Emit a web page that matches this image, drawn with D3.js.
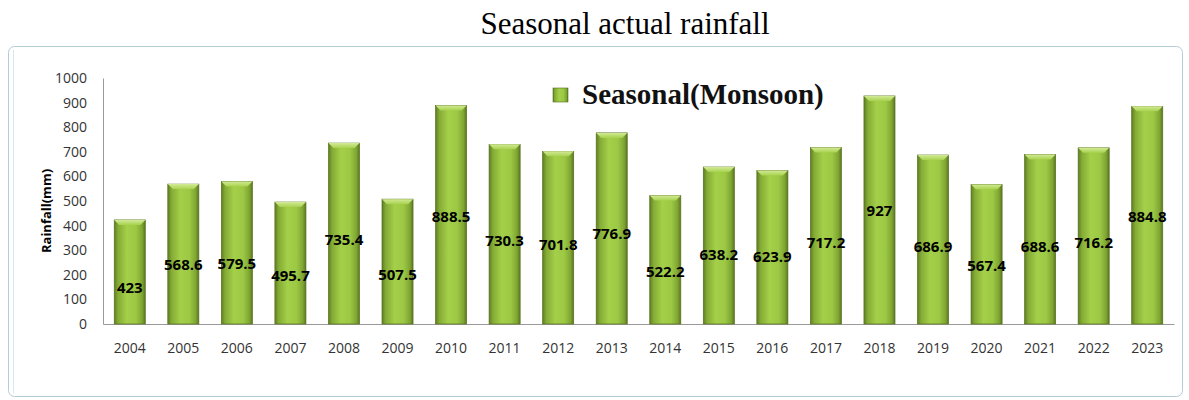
<!DOCTYPE html>
<html>
<head>
<meta charset="utf-8">
<script src="https://cdn.jsdelivr.net/npm/d3@7"></script>
<style>
    body { margin: 0; background: #fff; }
    .tick-text { font-family: 'Open Sans', sans-serif; font-size: 14px; fill: #333; }
    .bar-label { font-family: 'Open Sans', sans-serif; font-size: 15px; font-weight: 700; fill: #000; }
</style>
</head>
<body>
<div id="chart"></div>
<script>
// Seasonal (monsoon) rainfall by year, mm
const years = ['2004', '2005', '2006', '2007', '2008', '2009', '2010', '2011', '2012', '2013',
    '2014', '2015', '2016', '2017', '2018', '2019', '2020', '2021', '2022', '2023']
const rainfall = [423, 568.6, 579.5, 495.7, 735.4, 507.5, 888.5, 730.3, 701.8, 776.9,
    522.2, 638.2, 623.9, 717.2, 927, 686.9, 567.4, 688.6, 716.2, 884.8]
const yTicks = [0, 100, 200, 300, 400, 500, 600, 700, 800, 900, 1000]

const width = 1189
const height = 400
const margin = { top: 78, right: 15, bottom: 76, left: 103 }

const svg = d3.select('#chart')
    .append('svg')
    .attr('width', width)
    .attr('height', height)

// Title, sits above the chart frame
svg.append('text')
    .attr('x', 625)
    .attr('y', 34)
    .attr('text-anchor', 'middle')
    .style('font-family', "'Liberation Serif', 'Times New Roman', serif")
    .style('font-size', '31px')
    .text('Seasonal actual rainfall')

// Chart frame (Excel chart area look)
svg.append('rect')
    .attr('x', 8.5)
    .attr('y', 46.5)
    .attr('width', 1174)
    .attr('height', 350)
    .attr('rx', 6)
    .attr('fill', '#fff')
    .attr('stroke', '#b4ccd8')
svg.append('line')
    .attr('x1', 13.5).attr('x2', 13.5)
    .attr('y1', 50).attr('y2', 393)
    .attr('stroke', '#d6e8ee')

const defs = svg.append('defs')
const grad = defs.append('linearGradient')
    .attr('id', 'barGrad')
    .attr('x1', '0%').attr('x2', '100%')
    .attr('y1', '0%').attr('y2', '0%')
grad.selectAll('stop')
    .data([
        ['0%', '#5f7d22'], ['12%', '#84ab35'], ['40%', '#a3cf49'],
        ['70%', '#9cc844'], ['90%', '#7fa532'], ['100%', '#5a7620']
    ])
    .enter().append('stop')
    .attr('offset', d => d[0])
    .attr('stop-color', d => d[1])
const capGrad = defs.append('linearGradient')
    .attr('id', 'capGrad')
    .attr('x1', '0%').attr('x2', '0%')
    .attr('y1', '0%').attr('y2', '100%')
capGrad.append('stop').attr('offset', '0%').attr('stop-color', '#d2ea96')
capGrad.append('stop').attr('offset', '100%').attr('stop-color', '#a8d24e')

const x = d3.scaleBand()
    .domain(years)
    .range([margin.left, 1174])
    .paddingInner(0.42)
    .paddingOuter(0.21)

const y = d3.scaleLinear()
    .domain([0, 1000])
    .range([height - margin.bottom, margin.top])

// Y axis
const yAxis = svg.append('g')
    .attr('transform', `translate(${margin.left},0)`)
    .call(d3.axisLeft(y).tickValues(yTicks).tickFormat(d3.format('d')).tickSize(0).tickPadding(16))
yAxis.select('.domain').attr('stroke', '#9a9a9a')
yAxis.selectAll('text').attr('class', 'tick-text')

// X axis
const xAxis = svg.append('g')
    .attr('transform', `translate(0,${y(0)})`)
    .call(d3.axisBottom(x).tickSize(0).tickPadding(19))
xAxis.select('.domain').attr('stroke', '#9a9a9a')
xAxis.selectAll('text').attr('class', 'tick-text')

svg.append('text')
    .attr('transform', `translate(51,${(y(0) + y(1000)) / 2 + 10}) rotate(-90)`)
    .attr('text-anchor', 'middle')
    .style('font-family', "'Open Sans', sans-serif")
    .style('font-size', '13px')
    .style('font-weight', 700)
    .text('Rainfall(mm)')

const bars = svg.append('g')
    .selectAll('g')
    .data(years.map((yr, i) => ({ year: yr, value: rainfall[i] })))
    .enter().append('g')

bars.append('rect')
    .attr('x', d => x(d.year))
    .attr('y', d => y(d.value))
    .attr('width', x.bandwidth())
    .attr('height', d => y(0) - y(d.value))
    .attr('fill', 'url(#barGrad)')
    .attr('stroke', '#56701f')
    .attr('stroke-width', 0.7)

// bevelled top edge
bars.append('path')
    .attr('d', d => {
        const x0 = x(d.year), x1 = x0 + x.bandwidth(), t = y(d.value), b = 5
        return `M${x0},${t}L${x1},${t}L${x1 - b},${t + b}L${x0 + b},${t + b}Z`
    })
    .attr('fill', 'url(#capGrad)')

// labels sit inside the bars, roughly like the original
bars.append('text')
    .attr('class', 'bar-label')
    .attr('x', d => x(d.year) + x.bandwidth() / 2)
    .attr('y', d => y(0.62 * d.value - 113))
    .attr('dy', '0.35em')
    .attr('text-anchor', 'middle')
    .text(d => d3.format('~g')(d.value))

// Legend
const legend = svg.append('g')
    .attr('transform', 'translate(553,88)')
legend.append('rect')
    .attr('width', 15)
    .attr('height', 14)
    .attr('fill', 'url(#barGrad)')
    .attr('stroke', '#56701f')
    .attr('stroke-width', 0.6)
legend.append('text')
    .attr('x', 29)
    .attr('y', 16)
    .style('font-family', "'Liberation Serif', 'Times New Roman', serif")
    .style('font-size', '29px')
    .style('font-weight', 700)
    .attr('fill', '#111')
    .text('Seasonal(Monsoon)')
</script>
</body>
</html>
